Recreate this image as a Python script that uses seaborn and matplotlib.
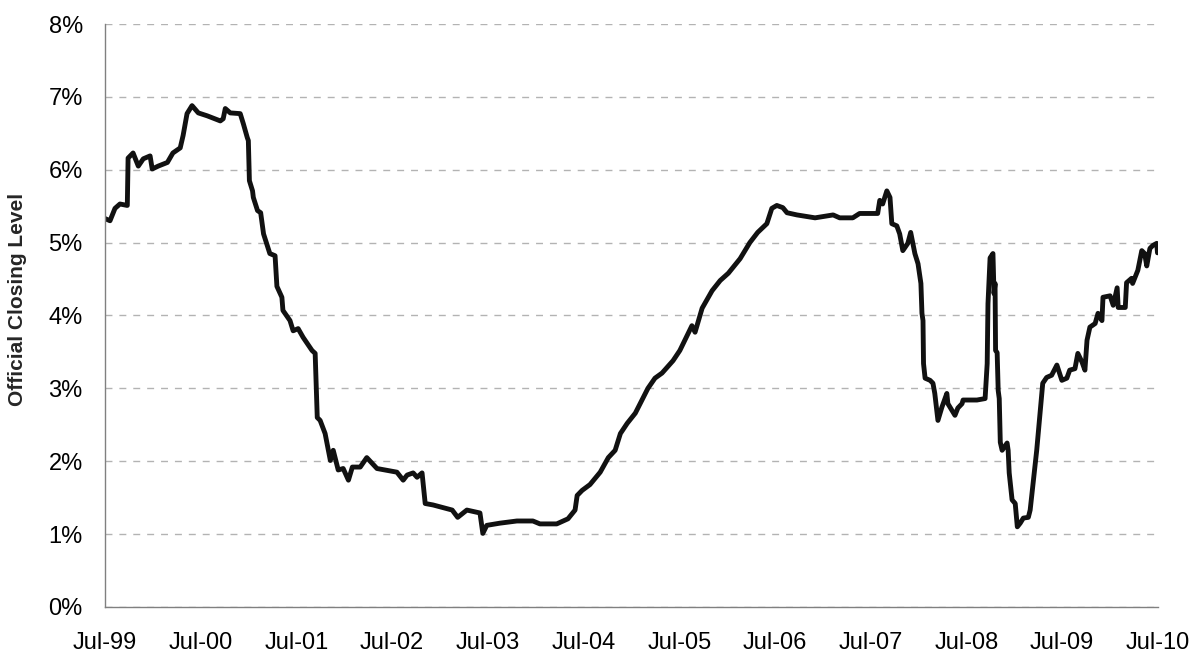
import matplotlib
matplotlib.use("Agg")
import matplotlib.pyplot as plt
import matplotlib.dates as mdates
from matplotlib.ticker import FuncFormatter
import pandas as pd
import seaborn as sns

tickFontSize = 17
labelFontSize = 15

dates = [
    "1999-07-01", "1999-07-20", "1999-08-08", "1999-08-27", "1999-09-24", "1999-09-27",
    "1999-10-16", "1999-11-05", "1999-11-24", "1999-12-20", "1999-12-28", "2000-01-20",
    "2000-02-24", "2000-03-16", "2000-04-13", "2000-04-24", "2000-05-09", "2000-05-28",
    "2000-06-21", "2000-07-25", "2000-09-13", "2000-09-24", "2000-10-02", "2000-10-21",
    "2000-11-28", "2000-12-10", "2000-12-25", "2000-12-29", "2001-01-02", "2001-01-14",
    "2001-01-17", "2001-02-02", "2001-02-14", "2001-02-25", "2001-03-21", "2001-04-10",
    "2001-04-17", "2001-05-06", "2001-05-10", "2001-06-06", "2001-06-18", "2001-07-07",
    "2001-07-26", "2001-08-29", "2001-09-10", "2001-09-18", "2001-09-29", "2001-10-18",
    "2001-11-07", "2001-11-18", "2001-12-07", "2001-12-26", "2002-01-15", "2002-01-30",
    "2002-03-01", "2002-03-26", "2002-05-04", "2002-07-19", "2002-08-12", "2002-08-27",
    "2002-09-19", "2002-10-04", "2002-10-23", "2002-11-04", "2002-12-04", "2003-02-15",
    "2003-03-08", "2003-04-12", "2003-06-01", "2003-06-12", "2003-06-27", "2003-08-16",
    "2003-10-20", "2003-12-20", "2004-01-16", "2004-03-20", "2004-05-02", "2004-05-29",
    "2004-06-06", "2004-06-25", "2004-07-25", "2004-09-02", "2004-10-03", "2004-10-29",
    "2004-11-18", "2004-12-14", "2005-01-14", "2005-03-03", "2005-03-30", "2005-04-26",
    "2005-06-07", "2005-07-03", "2005-08-03", "2005-08-18", "2005-08-30", "2005-09-26",
    "2005-11-03", "2005-12-04", "2006-01-04", "2006-02-18", "2006-03-27", "2006-04-26",
    "2006-05-31", "2006-06-19", "2006-07-08", "2006-07-31", "2006-08-16", "2006-09-23",
    "2006-12-01", "2007-02-08", "2007-03-05", "2007-04-24", "2007-05-20", "2007-07-28",
    "2007-08-05", "2007-08-16", "2007-09-01", "2007-09-13", "2007-09-20", "2007-10-09",
    "2007-10-20", "2007-11-01", "2007-11-20", "2007-12-01", "2007-12-17", "2007-12-29",
    "2008-01-09", "2008-01-13", "2008-01-17", "2008-01-19", "2008-01-25", "2008-02-13",
    "2008-02-24", "2008-03-02", "2008-03-14", "2008-03-29", "2008-04-17", "2008-04-21",
    "2008-05-18", "2008-05-29", "2008-06-14", "2008-06-18", "2008-08-10", "2008-09-10",
    "2008-09-18", "2008-09-21", "2008-09-29", "2008-10-10", "2008-10-14", "2008-10-18",
    "2008-10-20", "2008-10-26", "2008-10-30", "2008-11-03", "2008-11-07", "2008-11-14",
    "2008-12-03", "2008-12-07", "2008-12-11", "2008-12-22", "2009-01-03", "2009-01-11",
    "2009-01-22", "2009-02-03", "2009-02-22", "2009-03-01", "2009-03-26", "2009-04-18",
    "2009-05-03", "2009-05-22", "2009-06-11", "2009-06-30", "2009-07-19", "2009-07-30",
    "2009-08-19", "2009-08-30", "2009-09-15", "2009-09-26", "2009-10-04", "2009-10-15",
    "2009-11-04", "2009-11-15", "2009-11-30", "2009-12-04", "2009-12-31", "2010-01-12",
    "2010-01-27", "2010-01-31", "2010-02-27", "2010-03-04", "2010-03-23", "2010-03-27",
    "2010-04-16", "2010-05-01", "2010-05-12", "2010-05-20", "2010-06-01", "2010-06-12",
    "2010-06-27", "2010-06-30",
]

closingLevel = [
    5.33, 5.30, 5.47, 5.53, 5.51, 6.16,
    6.23, 6.05, 6.15, 6.19, 6.01, 6.05,
    6.10, 6.23, 6.30, 6.47, 6.77, 6.88,
    6.78, 6.74, 6.67, 6.70, 6.84, 6.78,
    6.77, 6.63, 6.44, 6.40, 5.85, 5.71,
    5.62, 5.44, 5.41, 5.12, 4.85, 4.82,
    4.40, 4.25, 4.07, 3.93, 3.79, 3.82,
    3.70, 3.52, 3.48, 2.60, 2.56, 2.38,
    2.01, 2.15, 1.88, 1.90, 1.74, 1.92,
    1.92, 2.05, 1.90, 1.85, 1.74, 1.81,
    1.84, 1.78, 1.84, 1.42, 1.40, 1.33,
    1.23, 1.33, 1.29, 1.01, 1.12, 1.15,
    1.18, 1.18, 1.14, 1.14, 1.21, 1.33,
    1.53, 1.60, 1.68, 1.85, 2.05, 2.15,
    2.38, 2.52, 2.66, 3.00, 3.14, 3.21,
    3.38, 3.52, 3.75, 3.86, 3.77, 4.10,
    4.34, 4.48, 4.58, 4.78, 5.00, 5.14,
    5.26, 5.47, 5.51, 5.48, 5.41, 5.38,
    5.34, 5.38, 5.34, 5.34, 5.40, 5.40,
    5.58, 5.53, 5.71, 5.62, 5.26, 5.23,
    5.12, 4.89, 4.99, 5.14, 4.85, 4.71,
    4.44, 4.03, 3.93, 3.34, 3.14, 3.11,
    3.07, 2.93, 2.56, 2.74, 2.93, 2.79,
    2.63, 2.73, 2.79, 2.84, 2.84, 2.86,
    3.34, 4.16, 4.79, 4.85, 4.30, 4.44,
    3.52, 3.49, 2.97, 2.86, 2.26, 2.15,
    2.25, 2.15, 1.84, 1.47, 1.42, 1.10,
    1.15, 1.22, 1.23, 1.33, 2.15, 3.07,
    3.15, 3.18, 3.32, 3.11, 3.14, 3.25,
    3.27, 3.48, 3.36, 3.25, 3.66, 3.84,
    3.89, 4.03, 3.93, 4.25, 4.27, 4.14,
    4.38, 4.11, 4.11, 4.45, 4.51, 4.44,
    4.62, 4.89, 4.85, 4.68, 4.92, 4.96,
    4.99, 4.86,
]

yTicks = [0, 1, 2, 3, 4, 5, 6, 7, 8]
xTickYears = list(range(1999, 2011))

df = pd.DataFrame({"date": pd.to_datetime(dates), "level": closingLevel})

sns.set_style("white")
plt.rcParams['font.family'] = ['Liberation Sans', 'DejaVu Sans']

fig = plt.figure(figsize=(11.99, 6.54), dpi=100)
ax = fig.add_axes([0.0876, 0.0719, 0.878, 0.8914])

sns.lineplot(data=df, x="date", y="level", ax=ax, color="#111111", linewidth=3.5,
             solid_joinstyle="round", solid_capstyle="round")

ax.set_ylim(0, 8)
ax.set_yticks(yTicks)
ax.yaxis.set_major_formatter(FuncFormatter(lambda v, p: f"{v:.0f}%"))
ax.set_xlim(pd.Timestamp("1999-07-01"), pd.Timestamp("2010-07-01"))
ax.set_xticks([pd.Timestamp(f"{y}-07-01") for y in xTickYears])
ax.xaxis.set_major_formatter(mdates.DateFormatter("%b-%y"))

ax.grid(axis="y", color="#b3b3b3", linestyle=(0, (5, 5)), linewidth=1.0)
ax.set_axisbelow(True)
for s in ["top", "right"]:
    ax.spines[s].set_visible(False)
for s in ["left", "bottom"]:
    ax.spines[s].set_color("#808080")
    ax.spines[s].set_linewidth(1.0)

ax.tick_params(axis="both", direction="out", length=6, width=1, color="#808080",
               labelsize=tickFontSize, labelcolor="black")
ax.tick_params(axis="y", pad=10)
ax.tick_params(axis="x", pad=12)
ax.set_xlabel("")
ax.set_ylabel("Official Closing Level", fontsize=labelFontSize, fontweight="bold")
ax.yaxis.set_label_coords(-0.074, 0.528)

fig.savefig("out.png", dpi=100)
